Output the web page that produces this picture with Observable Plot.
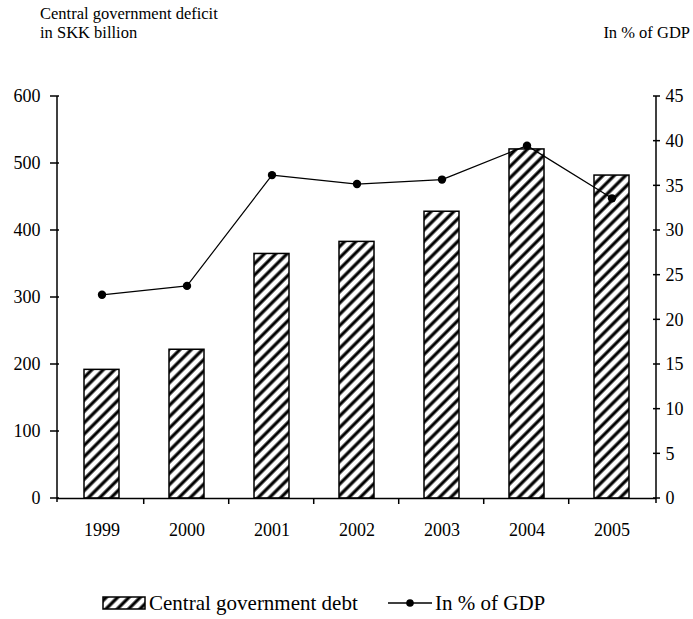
<!DOCTYPE html>
<html>
<head>
<meta charset="utf-8">
<script src="https://cdn.jsdelivr.net/npm/d3@7"></script>
<script src="https://cdn.jsdelivr.net/npm/@observablehq/plot@0.6"></script>
<style>
  html, body { margin: 0; padding: 0; background: #fff; }
  #wrap { position: relative; width: 693px; height: 619px; overflow: hidden; font-family: "Liberation Serif", "Times New Roman", "DejaVu Serif", serif; color: #000; }
  .hdr { position: absolute; font-size: 16.5px; line-height: 19px; }
  #legend { position: absolute; left: 0; top: 590px; width: 693px; height: 26px; font-size: 21px; }
  #legend .item { position: absolute; top: 0; display: flex; align-items: center; height: 26px; }
  #chart { position: absolute; left: 0; top: 60px; }
</style>
</head>
<body>
<div id="wrap">
  <div class="hdr" style="left:40px; top:4px;">Central government deficit<br>in SKK billion</div>
  <div class="hdr" style="right:3px; top:23px;">In % of GDP</div>
  <div id="chart"></div>
  <div id="legend">
    <div class="item" style="left:102px;">
      <svg width="44" height="14" style="margin-right:3px"><defs><pattern id="hatchL" patternUnits="userSpaceOnUse" width="8" height="8" patternTransform="rotate(45)"><rect width="8" height="8" fill="#fff"/><line x1="4" y1="0" x2="4" y2="8" stroke="#000" stroke-width="3.2"/></pattern></defs><rect x="1" y="1" width="42" height="12" fill="url(#hatchL)" stroke="#000" stroke-width="1.5"/></svg>
      <span>Central government debt</span>
    </div>
    <div class="item" style="left:388px;">
      <svg width="44" height="14" style="margin-right:3px"><line x1="0" y1="7" x2="44" y2="7" stroke="#000" stroke-width="1.3"/><circle cx="22" cy="7" r="3.8" fill="#000"/></svg>
      <span>In % of GDP</span>
    </div>
  </div>
</div>
<script>
const years = ["1999", "2000", "2001", "2002", "2003", "2004", "2005"];
const debt = [192, 222, 365, 383, 428, 521, 482];
const pctGDP = [22.8, 23.8, 36.2, 35.2, 35.7, 39.5, 33.6];
const leftTicks = [0, 100, 200, 300, 400, 500, 600];
const rightTicks = [0, 5, 10, 15, 20, 25, 30, 35, 40, 45];

const leftMax = 600, rightMax = 45;
const toLeft = v => v * leftMax / rightMax;

const data = years.map((y, i) => ({year: y, debt: debt[i], pct: pctGDP[i]}));

const W = 693, H = 500;
const mL = 57, mR = 37, mT = 36, mB = 62;
const step = (W - mL - mR) / years.length;
const font = "'Liberation Serif', 'Times New Roman', 'DejaVu Serif', serif";

const chart = Plot.plot({
  width: W,
  height: H,
  marginLeft: mL,
  marginRight: mR,
  marginTop: mT,
  marginBottom: mB,
  style: {fontFamily: font, fontSize: "18px", color: "#000", background: "transparent"},
  x: {domain: years, paddingInner: 0.59, paddingOuter: 0.295, axis: null},
  y: {domain: [0, leftMax], axis: null},
  marks: [
    Plot.barY(data, {x: "year", y: "debt", fill: "url(#hatch)", stroke: "#000", strokeWidth: 1.5}),
    Plot.line(data, {x: "year", y: d => toLeft(d.pct), stroke: "#000", strokeWidth: 1.2}),
    Plot.dot(data, {x: "year", y: d => toLeft(d.pct), r: 4.2, fill: "#000"}),
    Plot.axisY({anchor: "left", ticks: leftTicks, tickSize: 0, tickPadding: 17, fontSize: 18, label: null}),
    Plot.axisY({anchor: "right", ticks: rightTicks.map(toLeft), tickFormat: d => String(Math.round(d * rightMax / leftMax)), tickSize: 0, tickPadding: 9, fontSize: 18, label: null}),
    Plot.axisX({ticks: years, tickSize: 0, tickPadding: 25, fontSize: 18, label: null}),
    Plot.ruleY([0], {stroke: "#000", strokeWidth: 1.5})
  ]
});

const sx = chart.scale("x"), sy = chart.scale("y");
const svg = d3.select(chart);
const y0 = sy.apply(0), yTop = sy.apply(leftMax);
const xL = mL, xR = W - mR;
const g = svg.append("g").attr("stroke", "#000").attr("stroke-width", 1.5);
g.append("line").attr("x1", xL).attr("x2", xL).attr("y1", yTop).attr("y2", y0 + 4);
g.append("line").attr("x1", xR).attr("x2", xR).attr("y1", yTop).attr("y2", y0 + 5);
leftTicks.forEach(t => { const yy = sy.apply(t); g.append("line").attr("x1", xL - 7).attr("x2", xL + 2).attr("y1", yy).attr("y2", yy); });
rightTicks.forEach(t => { const yy = sy.apply(toLeft(t)); g.append("line").attr("x1", xR - 3).attr("x2", xR + 4).attr("y1", yy).attr("y2", yy); });
years.slice(1).forEach(yr => { const xx = sx.apply(yr) - (step - sx.bandwidth) / 2; g.append("line").attr("x1", xx).attr("x2", xx).attr("y1", y0).attr("y2", y0 + 6); });

const defs = svg.insert("defs", ":first-child");
const pat = defs.append("pattern").attr("id", "hatch").attr("patternUnits", "userSpaceOnUse")
  .attr("width", 8).attr("height", 8).attr("patternTransform", "rotate(45)");
pat.append("rect").attr("width", 8).attr("height", 8).attr("fill", "#fff");
pat.append("line").attr("x1", 4).attr("y1", 0).attr("x2", 4).attr("y2", 8).attr("stroke", "#000").attr("stroke-width", 3.2);

document.getElementById("chart").appendChild(chart);
</script>
</body>
</html>
